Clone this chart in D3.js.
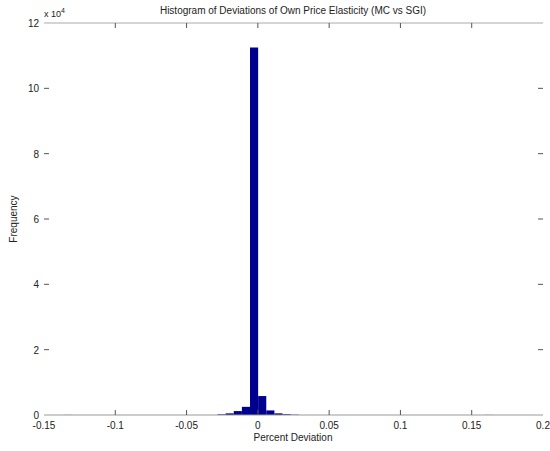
<!DOCTYPE html>
<html><head><meta charset="utf-8">
<script src="https://cdn.jsdelivr.net/npm/d3@7"></script>
<style>body{margin:0;background:#fff}text{font-family:"Liberation Sans",Arial,sans-serif;fill:#222}</style>
</head><body><svg id="c" width="550" height="451"></svg>
<script>
const binWidth = 0.0057;
const binStarts = [-0.1358, -0.0283, -0.0226, -0.0169, -0.0112, -0.0055, 0.0002, 0.0059, 0.0116, 0.0173, 0.0230, 0.1595];
const counts    = [30, 200, 500, 1200, 2500, 112500, 5800, 1400, 500, 250, 100, 30];
const xTicks = [-0.15, -0.1, -0.05, 0, 0.05, 0.1, 0.15, 0.2];
const xTickLabels = ["-0.15", "-0.1", "-0.05", "0", "0.05", "0.1", "0.15", "0.2"];
const yTicks = [0, 2, 4, 6, 8, 10, 12];
const title = "Histogram of Deviations of Own Price Elasticity (MC vs SGI)";
const xLabel = "Percent Deviation";
const yLabel = "Frequency";

const svg = d3.select("#c");
const L = 44, R = 543, T = 23, B = 415;
const x = d3.scaleLinear().domain([-0.15, 0.2]).range([L, R]);
const y = d3.scaleLinear().domain([0, 12]).range([B, T]);

svg.append("g").selectAll("rect").data(binStarts).join("rect")
  .attr("x", d => x(d))
  .attr("width", d => x(d + binWidth) - x(d))
  .attr("y", (d, i) => y(counts[i] / 1e4))
  .attr("height", (d, i) => B - y(counts[i] / 1e4))
  .attr("fill", "#00008f");

// box lines (top & bottom)
svg.append("line").attr("x1", L).attr("x2", R).attr("y1", B).attr("y2", B).attr("stroke", "#999").attr("stroke-width", 1.2);
svg.append("line").attr("x1", L).attr("x2", R).attr("y1", T).attr("y2", T).attr("stroke", "#aaa").attr("stroke-width", 1);

// x ticks inside, top and bottom
const xt = xTicks.slice(1, -1);
svg.append("g").selectAll("line").data(xt).join("line")
  .attr("x1", d => x(d)).attr("x2", d => x(d)).attr("y1", B).attr("y2", B - 5).attr("stroke", "#555");
svg.append("g").selectAll("line").data(xt).join("line")
  .attr("x1", d => x(d)).attr("x2", d => x(d)).attr("y1", T).attr("y2", T + 5).attr("stroke", "#555");
svg.append("g").selectAll("text").data(xTicks).join("text")
  .attr("x", d => x(d)).attr("y", B + 14).attr("text-anchor", "middle")
  .attr("font-size", 10).text((d, i) => xTickLabels[i]);

// y ticks
const yt = yTicks.slice(1, -1);
svg.append("g").selectAll("line").data(yt).join("line")
  .attr("x1", L).attr("x2", L + 5).attr("y1", d => y(d)).attr("y2", d => y(d)).attr("stroke", "#555");
svg.append("g").selectAll("line").data(yt).join("line")
  .attr("x1", R).attr("x2", R - 5).attr("y1", d => y(d)).attr("y2", d => y(d)).attr("stroke", "#555");
svg.append("g").selectAll("text").data(yTicks).join("text")
  .attr("x", L - 5).attr("y", d => y(d) + 4).attr("text-anchor", "end")
  .attr("font-size", 10).text(d => d);

// exponent
const ex = svg.append("text").attr("x", L).attr("y", 17).attr("font-size", 9);
ex.append("tspan").text("x 10");
ex.append("tspan").attr("dy", -4).attr("font-size", 7).text("4");

svg.append("text").attr("x", 293).attr("y", 14).attr("text-anchor", "middle").attr("font-size", 10).text(title);
svg.append("text").attr("x", 293).attr("y", 441).attr("text-anchor", "middle").attr("font-size", 10).text(xLabel);
svg.append("text").attr("transform", "translate(17,219) rotate(-90)").attr("text-anchor", "middle").attr("font-size", 10).text(yLabel);
</script></body></html>
